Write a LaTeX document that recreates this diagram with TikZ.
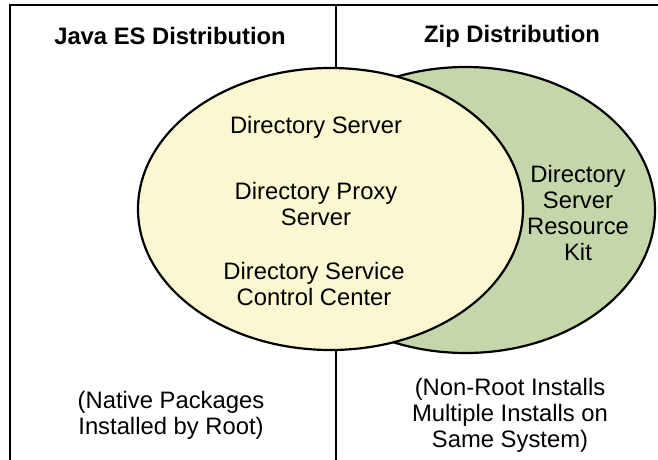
\documentclass[tikz,border=0pt]{standalone}
\usepackage{fontspec}
\setmainfont{Liberation Sans}
\definecolor{paleyellow}{RGB}{251,247,208}
\definecolor{sagegreen}{RGB}{197,214,170}
\tikzset{
  label/.style={align=center, font=\fontsize{23.8}{26}\selectfont},
  heading/.style={label, font=\fontsize{23.8}{26}\selectfont\bfseries},
}
\begin{document}
\begin{tikzpicture}[x=1pt,y=-1pt,line width=2.2pt]
\useasboundingbox (0,0) rectangle (658,460);
% frame and divider
\draw (10,460)--(10,5)--(658,5);
\draw (336,5)--(336,460);
% the two sets
\draw[fill=sagegreen] (465.6,210) ellipse[x radius=189.4, y radius=143];
\draw[fill=paleyellow] (330.5,209) ellipse[x radius=192.5, y radius=141];
% column headings
\node[heading] (javaes) at (170,36) {Java ES Distribution};
\node[heading] (zip) at (512,36) {Zip Distribution};
% inside the Java ES set
\node[label] (ds) at (316,127) {Directory Server};
\node[label] (dps) at (316,204) {Directory Proxy\\Server};
\node[label] (dscc) at (314,284) {Directory Service\\Control Center};
% only in the zip set
\node[label] (dsrk) at (578,213) {Directory\\Server\\Resource\\Kit};
% install notes
\node[label] (native) at (171,415) {(Native Packages\\Installed by Root)};
\node[label] (nonroot) at (510,415) {(Non-Root Installs\\Multiple Installs on\\Same System)};
\end{tikzpicture}
\end{document}
